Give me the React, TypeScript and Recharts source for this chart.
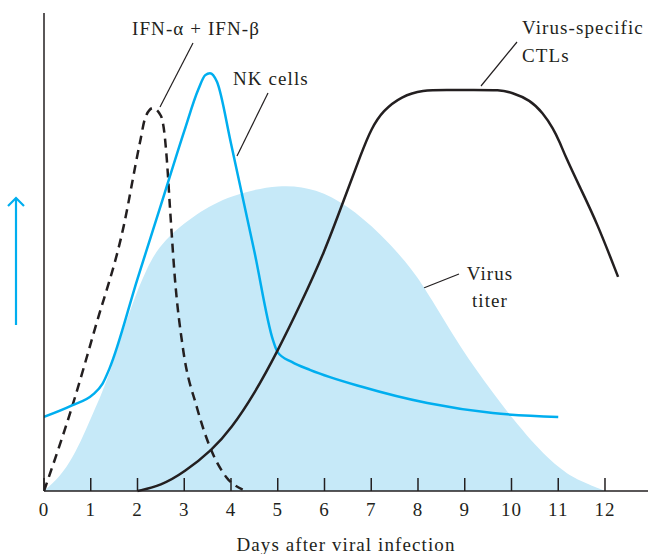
import { ComposedChart, Area, Line, XAxis, YAxis } from 'recharts';

// values are relative response levels (0-100)
const titerDays = [0, 0.34, 0.62, 0.83, 1.05, 1.24, 1.45, 1.63, 1.84, 2.2, 2.55, 3.27, 3.98, 5.05, 5.84, 6.48, 7.19, 7.9, 8.26, 8.9, 9.6, 10.33, 11.04, 11.46, 12];
const titerLevel = [0, 2.9, 7.1, 11.3, 16.3, 20.5, 26, 31.6, 37.9, 46.9, 52.5, 58.2, 61.9, 64.3, 63.2, 59.8, 54, 46.2, 40.6, 30.1, 20.5, 11.3, 4.4, 2.1, 0];

const nkDays = [0, 0.6, 1.05, 1.25, 1.4, 2.0, 2.5, 3.0, 3.3, 3.45, 3.55, 3.7, 4.0, 4.5, 4.9, 5.0, 5.3, 5.7, 6.8, 8.2, 9.6, 11];
const nkLevel = [15.5, 17.9, 20.2, 22.4, 25.6, 44.4, 59.8, 75.3, 84, 87, 87.4, 85.6, 72.7, 50.1, 31.5, 29, 27, 25.3, 21.8, 18.4, 16.3, 15.5];

const ifnDays = [0, 0.6, 1.1, 1.7, 2.05, 2.17, 2.33, 2.5, 2.58, 2.63, 2.7, 2.8, 2.97, 3.27, 3.55, 3.9, 4.25];
const ifnLevel = [0, 17.6, 34.3, 55.2, 72.8, 78.2, 80.1, 78.5, 74.5, 69, 58.5, 44.5, 30, 17.5, 9.2, 2.9, 0.3];

const ctlDays = [2, 2.5, 3, 3.6, 4, 4.5, 5, 5.5, 6, 6.4, 6.8, 7.0, 7.25, 7.65, 8.1, 8.6, 9.2, 9.75, 10.0, 10.4, 10.67, 10.89, 11.04, 11.14, 11.46, 11.83, 12.28];
const ctlLevel = [0, 1.1, 3.9, 8.6, 13, 20.3, 29.3, 39.3, 50, 60.5, 71, 75.8, 79.6, 82.6, 83.9, 83.9, 83.9, 83.9, 83.4, 81.8, 79.1, 75.9, 72.8, 70.3, 63.6, 56.1, 44.8];

const dayTicks = [0, 1, 2, 3, 4, 5, 6, 7, 8, 9, 10, 11, 12];

const zip = (days: number[], vals: number[]) => days.map((d, i) => ({ day: d, v: vals[i] }));

const titer = zip(titerDays, titerLevel);
const nk = zip(nkDays, nkLevel);
const ifn = zip(ifnDays, ifnLevel);
const ctl = zip(ctlDays, ctlLevel);

const BLUE = '#00aeef';
const INK = '#231f20';
const FONT = '"Liberation Serif", "Times New Roman", serif';
const txt = { fontFamily: FONT, fontSize: 19, letterSpacing: 1.1, fill: INK };

export default function App() {
  return (
    <div style={{ position: 'absolute', left: 0, top: 0, background: '#fff' }}>
      <ComposedChart width={648} height={554} margin={{ top: 13, right: 0, bottom: 0, left: 0 }}>
        <XAxis
          type="number"
          dataKey="day"
          domain={[0, 12.92]}
          ticks={dayTicks}
          allowDataOverflow
          height={63}
          tickSize={-13}
          tickMargin={25}
          stroke={INK}
          strokeWidth={1.5}
          tick={txt}
          label={{ value: 'Days after viral infection', position: 'insideBottom', offset: 3, style: txt }}
        />
        <YAxis type="number" domain={[0, 100]} width={44} tick={false} tickLine={false} stroke={INK} strokeWidth={1.5} />
        <Area data={titer} dataKey="v" type="basis" stroke="none" fill="#c6e9f8" fillOpacity={1} isAnimationActive={false} />
        <Line data={ifn} dataKey="v" type="monotone" stroke={INK} strokeWidth={2.5} strokeDasharray="9 6" dot={false} isAnimationActive={false} />
        <Line data={nk} dataKey="v" type="monotone" stroke={BLUE} strokeWidth={2.5} dot={false} isAnimationActive={false} />
        <Line data={ctl} dataKey="v" type="basis" stroke={INK} strokeWidth={2.5} dot={false} isAnimationActive={false} />

        <g>
          <text x={196} y={35} textAnchor="middle" style={txt}>IFN-α + IFN-β</text>
          <line x1={193} y1={43} x2={160} y2={107} stroke={INK} strokeWidth={1.2} />
          <text x={233} y={85} style={txt}>NK cells</text>
          <line x1={268} y1={93} x2={237} y2={156} stroke={INK} strokeWidth={1.2} />
          <text x={522} y={34} style={txt}>Virus-specific</text>
          <text x={522} y={62} style={txt}>CTLs</text>
          <line x1={517} y1={42} x2={481} y2={86} stroke={INK} strokeWidth={1.2} />
          <text x={490} y={280} textAnchor="middle" style={txt}>Virus</text>
          <text x={490} y={307} textAnchor="middle" style={txt}>titer</text>
          <line x1={459} y1={274} x2={406} y2={295} stroke={INK} strokeWidth={1.2} />
          <line x1={16} y1={325} x2={16} y2={198} stroke={BLUE} strokeWidth={2.2} />
          <polyline points="8,206 16,198 24,206" fill="none" stroke={BLUE} strokeWidth={2.2} />
        </g>
      </ComposedChart>
    </div>
  );
}
